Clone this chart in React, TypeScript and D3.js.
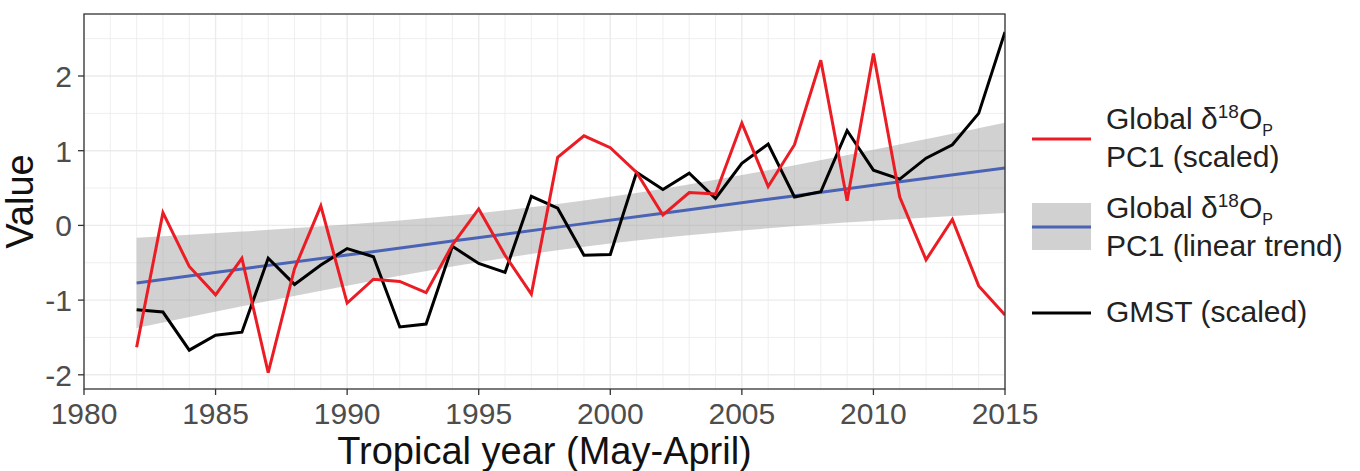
import React from "react";
import * as d3 from "d3";

const years = d3.range(1982, 2016);
const pc1Scaled = [
  -1.63, 0.17, -0.55, -0.93, -0.44, -1.97, -0.58, 0.26, -1.04, -0.72, -0.75,
  -0.9, -0.26, 0.22, -0.4, -0.92, 0.91, 1.2, 1.04, 0.71, 0.14, 0.44,
  0.42, 1.37, 0.52, 1.08, 2.21, 0.33, 2.3, 0.38, -0.46, 0.08, -0.81, -1.2,
];
const gmstScaled = [
  -1.13, -1.16, -1.67, -1.47, -1.43, -0.44, -0.79, -0.53, -0.31, -0.42, -1.36,
  -1.32, -0.28, -0.51, -0.63, 0.39, 0.23, -0.4, -0.39, 0.71, 0.48, 0.7,
  0.36, 0.83, 1.09, 0.38, 0.45, 1.27, 0.74, 0.62, 0.9, 1.08, 1.5, 2.59,
];
const trendYears = [1982, 1986, 1990, 1994, 1998, 2002, 2006, 2010, 2015];
const trendFit = [-0.77, -0.583, -0.397, -0.21, -0.023, 0.163, 0.35, 0.537, 0.77];
const trendLower = [-1.375, -1.083, -0.807, -0.55, -0.333, -0.165, -0.039, 0.061, 0.165];
const trendUpper = [-0.165, -0.083, 0.013, 0.13, 0.287, 0.491, 0.739, 1.013, 1.375];
const xTicks = [1980, 1985, 1990, 1995, 2000, 2005, 2010, 2015];
const yTicks = [-2, -1, 0, 1, 2];

const W = 1360, H = 471;
const P = { left: 84, right: 1005, top: 14, bottom: 389 };
const FONT = "'Liberation Sans', Arial, Helvetica, sans-serif";
const RED = "#EC1C24";
const BLUE = "#4A63B5";

export default function App() {
  const x = d3.scaleLinear().domain([1980, 2015]).range([P.left, P.right]);
  const y = d3.scaleLinear().domain([-2.19, 2.83]).range([P.bottom, P.top]);

  const minorX = d3.range(1980, 2016, 1).filter((v) => v % 5 !== 0);
  const majorX = xTicks;
  const minorY = [-1.5, -0.5, 0.5, 1.5, 2.5];
  const majorY = yTicks;

  const line = d3
    .line<[number, number]>()
    .x((d) => x(d[0]))
    .y((d) => y(d[1]));
  const redPath = line(years.map((yr, i) => [yr, pc1Scaled[i]]) as [number, number][]);
  const blackPath = line(years.map((yr, i) => [yr, gmstScaled[i]]) as [number, number][]);
  const trendPath = d3
    .line<number>()
    .x((_, i) => x(trendYears[i]))
    .y((d) => y(d))
    .curve(d3.curveNatural)(trendFit);
  const bandPath = d3
    .area<number>()
    .x((_, i) => x(trendYears[i]))
    .y0((_, i) => y(trendLower[i]))
    .y1((_, i) => y(trendUpper[i]))
    .curve(d3.curveNatural)(trendYears);

  const legFs = 30;
  const LegendLabel = ({ y0, second }: { y0: number; second: string }) => (
    <g>
      <text x={1106} y={y0 - 1} fontSize={legFs} fill="#222" fontFamily={FONT}>
        <tspan>Global δ</tspan>
        <tspan fontSize={19} dy={-11}>18</tspan>
        <tspan dy={11}>O</tspan>
        <tspan fontSize={16} dy={7}>P</tspan>
      </text>
      <text x={1106} y={y0 + 37} fontSize={legFs} fill="#222" fontFamily={FONT}>
        {second}
      </text>
    </g>
  );

  return (
    <svg
      width={W}
      height={H}
      style={{ position: "fixed", left: 0, top: 0, background: "#fff" }}
      fontFamily={FONT}
    >
      <rect x={0} y={0} width={W} height={H} fill="#fff" />
      <clipPath id="panel">
        <rect x={P.left} y={P.top} width={P.right - P.left} height={P.bottom - P.top} />
      </clipPath>
      {minorX.map((v) => (
        <line key={"mx" + v} x1={x(v)} x2={x(v)} y1={P.top} y2={P.bottom} stroke="#EBEBEB" strokeWidth={0.8} />
      ))}
      {minorY.map((v) => (
        <line key={"my" + v} x1={P.left} x2={P.right} y1={y(v)} y2={y(v)} stroke="#EBEBEB" strokeWidth={0.8} />
      ))}
      {majorX.map((v) => (
        <line key={"Mx" + v} x1={x(v)} x2={x(v)} y1={P.top} y2={P.bottom} stroke="#EBEBEB" strokeWidth={1.4} />
      ))}
      {majorY.map((v) => (
        <line key={"My" + v} x1={P.left} x2={P.right} y1={y(v)} y2={y(v)} stroke="#EBEBEB" strokeWidth={1.4} />
      ))}
      <g clipPath="url(#panel)">
        <path d={bandPath || ""} fill="#999999" fillOpacity={0.45} />
        <path d={trendPath || ""} fill="none" stroke={BLUE} strokeWidth={3} />
        <path d={blackPath || ""} fill="none" stroke="#000" strokeWidth={3} />
        <path d={redPath || ""} fill="none" stroke={RED} strokeWidth={3} />
      </g>
      <rect
        x={P.left}
        y={P.top}
        width={P.right - P.left}
        height={P.bottom - P.top}
        fill="none"
        stroke="#333"
        strokeWidth={1.3}
      />
      {xTicks.map((v) => (
        <g key={"xt" + v}>
          <line x1={x(v)} x2={x(v)} y1={P.bottom} y2={P.bottom + 6} stroke="#333" strokeWidth={1.3} />
          <text x={x(v)} y={424} textAnchor="middle" fontSize={30} fill="#4D4D4D">
            {v}
          </text>
        </g>
      ))}
      {yTicks.map((v) => (
        <g key={"yt" + v}>
          <line x1={P.left - 6} x2={P.left} y1={y(v)} y2={y(v)} stroke="#333" strokeWidth={1.3} />
          <text x={72} y={y(v)} dy="0.36em" textAnchor="end" fontSize={30} fill="#4D4D4D">
            {v}
          </text>
        </g>
      ))}
      <text x={(P.left + P.right) / 2} y={464} textAnchor="middle" fontSize={38} fill="#111">
        Tropical year (May-April)
      </text>
      <text
        transform={`translate(33, ${(P.top + P.bottom) / 2}) rotate(-90)`}
        textAnchor="middle"
        fontSize={38}
        fill="#111"
      >
        Value
      </text>
      <line x1={1032} x2={1091} y1={139} y2={139} stroke={RED} strokeWidth={3} />
      <LegendLabel y0={130} second="PC1 (scaled)" />
      <rect x={1032} y={203} width={59} height={47} fill="#999999" fillOpacity={0.45} />
      <line x1={1032} x2={1091} y1={227} y2={227} stroke={BLUE} strokeWidth={3} />
      <LegendLabel y0={219} second="PC1 (linear trend)" />
      <line x1={1032} x2={1091} y1={313} y2={313} stroke="#000" strokeWidth={3} />
      <text x={1106} y={322} fontSize={legFs} fill="#222">
        GMST (scaled)
      </text>
    </svg>
  );
}
